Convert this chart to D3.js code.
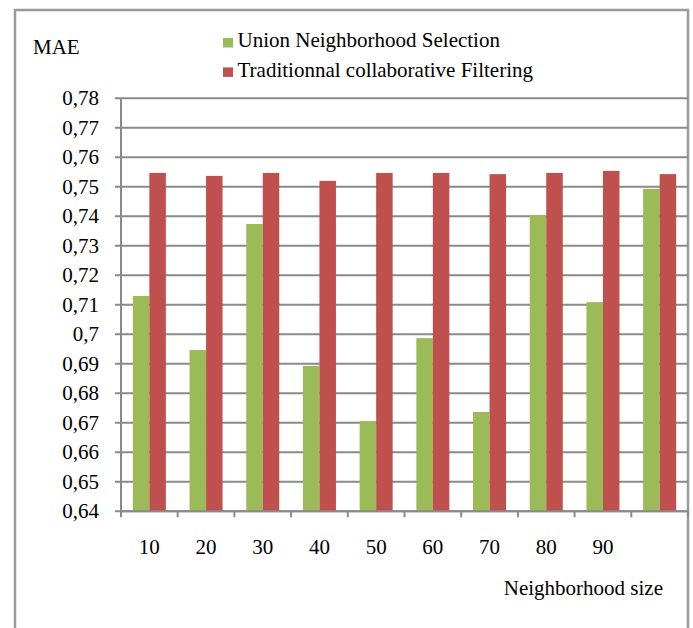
<!DOCTYPE html>
<html>
<head>
<meta charset="utf-8">
<script src="https://cdn.jsdelivr.net/npm/d3@7"></script>
<style>
  html, body { margin: 0; padding: 0; background: #fff; }
  svg { display: block; }
</style>
</head>
<body>
<svg id="chart" width="693" height="628" font-family="Liberation Serif"></svg>
<script>
const categories = [10, 20, 30, 40, 50, 60, 70, 80, 90, 100];
const categoryLabels = ["10", "20", "30", "40", "50", "60", "70", "80", "90", ""];
const seriesNames = ["Union Neighborhood Selection", "Traditionnal collaborative Filtering"];
const unionValues = [0.7130, 0.6947, 0.7374, 0.6893, 0.6706, 0.6987, 0.6737, 0.7404, 0.7109, 0.7493];
const traditionalValues = [0.7547, 0.7537, 0.7547, 0.7520, 0.7547, 0.7547, 0.7543, 0.7547, 0.7554, 0.7543];
const yTicks = [0.64, 0.65, 0.66, 0.67, 0.68, 0.69, 0.70, 0.71, 0.72, 0.73, 0.74, 0.75, 0.76, 0.77, 0.78];
const colors = ["#9BBB59", "#C0504D"];

const svg = d3.select("#chart");
const plotLeft = 121, plotRight = 688, plotTop = 98.3, plotBottom = 511.3;
const gridColor = "#8a8a8a";
const serif = "Liberation Serif";

// outer frame
svg.append("rect")
  .attr("x", 15).attr("y", 10).attr("width", 673).attr("height", 640)
  .attr("fill", "none").attr("stroke", "#9a9a9a").attr("stroke-width", 2.5);

const y = d3.scaleLinear().domain([0.64, 0.78]).range([plotBottom, plotTop]);
const x = d3.scaleBand().domain(categories).range([plotLeft, plotRight])
  .paddingInner(0.4177).paddingOuter(0.4177 / 2);
const xs = d3.scaleBand().domain(seriesNames).range([0, x.bandwidth()]);

const locale = d3.formatLocale({decimal: ",", thousands: ".", grouping: [3], currency: ["", ""]});
const fmt = locale.format("~g");

// gridlines
svg.append("g").selectAll("line").data(yTicks).join("line")
  .attr("x1", plotLeft - 6).attr("x2", plotRight)
  .attr("y1", d => y(d)).attr("y2", d => y(d))
  .attr("stroke", gridColor).attr("stroke-width", 2);

// y labels
svg.append("g").selectAll("text").data(yTicks).join("text")
  .attr("x", 99).attr("y", d => y(d)).attr("dy", "0.33em")
  .attr("text-anchor", "end").attr("font-size", 21).style("font-family", serif)
  .text(d => fmt(d));

// bars
const rows = categories.map((c, i) => ({c, vals: [unionValues[i], traditionalValues[i]]}));
const groups = svg.append("g").selectAll("g").data(rows).join("g")
  .attr("transform", d => `translate(${x(d.c)},0)`);
groups.selectAll("rect").data(d => d.vals.map((v, j) => ({s: seriesNames[j], v, j}))).join("rect")
  .attr("x", d => xs(d.s)).attr("width", xs.bandwidth())
  .attr("y", d => y(d.v)).attr("height", d => y(0.64) - y(d.v))
  .attr("fill", d => colors[d.j]);

// y axis line
svg.append("line").attr("x1", plotLeft).attr("x2", plotLeft).attr("y1", plotTop).attr("y2", plotBottom)
  .attr("stroke", gridColor).attr("stroke-width", 2);
// x axis line
svg.append("line").attr("x1", plotLeft).attr("x2", plotRight).attr("y1", plotBottom).attr("y2", plotBottom)
  .attr("stroke", gridColor).attr("stroke-width", 2);
// x ticks at category boundaries
const bounds = d3.range(categories.length + 1).map(i => plotLeft + i * x.step());
svg.append("g").selectAll("line").data(bounds).join("line")
  .attr("x1", d => d).attr("x2", d => d).attr("y1", plotBottom).attr("y2", plotBottom + 6)
  .attr("stroke", gridColor).attr("stroke-width", 2);

// x labels
svg.append("g").selectAll("text").data(categories).join("text")
  .attr("x", d => x(d) + x.bandwidth() / 2).attr("y", 554)
  .attr("text-anchor", "middle").attr("font-size", 21).style("font-family", serif)
  .text((d, i) => categoryLabels[i]);

// axis titles
svg.append("text").attr("x", 33).attr("y", 54).attr("font-size", 21).style("font-family", serif).text("MAE");
svg.append("text").attr("x", 663).attr("y", 595).attr("text-anchor", "end")
  .attr("font-size", 21).style("font-family", serif).text("Neighborhood size");

// legend
const legend = svg.append("g").selectAll("g").data(seriesNames).join("g")
  .attr("transform", (d, i) => `translate(223,${38 + i * 29.4})`);
legend.append("rect").attr("width", 10).attr("height", 9.5).attr("fill", (d, i) => colors[i]);
legend.append("text").attr("x", 14.5).attr("y", 9.3).attr("font-size", 21).style("font-family", serif).text(d => d);
</script>
</body>
</html>
